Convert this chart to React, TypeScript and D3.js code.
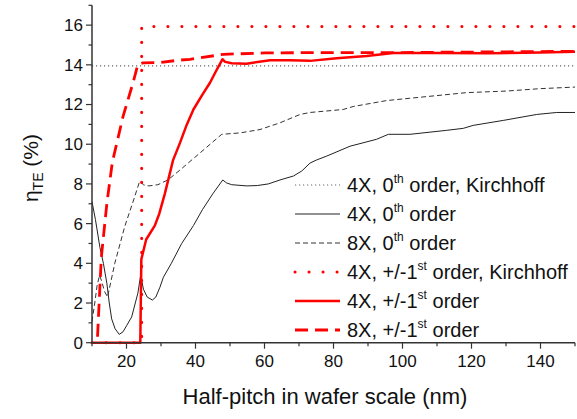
import React from 'react';
import * as d3 from 'd3';

// half-pitch (nm) vs efficiency (%)
const kirchhoff0: [number, number][] = [[10, 13.95], [150, 13.95]];

const zeroOrder4x: [number, number][] = [
  [10, 7.1], [11, 6.2], [12.3, 4.8], [13.3, 4.0], [14.3, 3.0], [15, 2.0], [15.7, 1.2], [16.7, 0.7],
  [17.9, 0.42], [19, 0.55], [20, 0.85], [21.5, 1.3], [23.3, 2.5], [24.1, 3.4], [24.9, 2.7], [26, 2.3],
  [27.5, 2.15], [28.5, 2.3], [29.7, 2.8], [30.7, 3.3], [33, 4.0], [36, 5.0], [39.4, 5.9], [42, 6.7],
  [45, 7.5], [47.9, 8.2], [49, 8.05], [50.5, 7.96], [54.9, 7.9], [58, 7.92], [61.1, 8.0], [64.5, 8.2],
  [68.4, 8.4], [70.8, 8.65], [73.2, 9.05], [75, 9.2], [78, 9.4], [84.8, 9.9], [92.5, 10.25], [95.9, 10.5],
  [102.2, 10.5], [112.8, 10.7], [117.6, 10.8], [120.5, 10.95], [129.2, 11.2], [138.9, 11.5], [144.7, 11.6],
  [150, 11.6],
];

const zeroOrder8x: [number, number][] = [
  [10, 1.06], [10.8, 2.0], [11.5, 2.9], [12.2, 3.4], [12.8, 3.1], [13.6, 2.6], [14.5, 2.3], [15.5, 3.1],
  [16.6, 4.0], [19.5, 5.86], [22.4, 7.37], [23.8, 8.13], [25, 7.95], [26.5, 7.9], [29.1, 7.96], [32, 8.2],
  [35.5, 8.7], [41.3, 9.56], [47.6, 10.5], [52.9, 10.57], [58.7, 10.74], [64.5, 11.08], [70.3, 11.5],
  [73.2, 11.6], [82.8, 11.75], [85.7, 11.9], [95.4, 12.2], [107, 12.4], [118.6, 12.6], [130.2, 12.68],
  [139.9, 12.8], [150, 12.88],
];

const kirchhoff1: [number, number][] = [[10, 0], [24.4, 0], [24.4, 15.93], [150, 15.93]];

const firstOrder4x: [number, number][] = [
  [10, 0], [24, 0], [24.3, 4.2], [25.7, 5.2], [28.2, 5.9], [29.5, 6.5], [31.1, 7.5], [33.5, 9.2],
  [35.5, 10.07], [37.5, 11.0], [39.4, 11.75], [42, 12.5], [44.2, 13.1], [46, 13.7], [47.8, 14.28],
  [48.6, 14.15], [50.5, 14.08], [54.8, 14.06], [61.6, 14.23], [67.4, 14.23], [73.2, 14.2], [80.9, 14.33],
  [89.6, 14.44], [97.3, 14.6], [110, 14.6], [125, 14.58], [140, 14.62], [150, 14.66],
];

const firstOrder8x: [number, number][] = [
  [11.6, 0.3], [12.7, 4.3], [14.3, 7.0], [15.9, 9.1], [19, 11.4], [21.9, 13.1], [23.3, 14.02], [24.8, 14.1],
  [30, 14.12], [34.9, 14.23], [38.4, 14.28], [48.1, 14.53], [60, 14.6], [80, 14.62], [100, 14.62],
  [150, 14.68],
];

const xTicks = [20, 40, 60, 80, 100, 120, 140];
const yTicks = [0, 2, 4, 6, 8, 10, 12, 14, 16];

const series = [
  { data: kirchhoff0, color: '#666', width: 1.2, dash: '1.2,2.8', label: ['4X, 0', 'th', ' order, Kirchhoff'] },
  { data: zeroOrder4x, color: '#222', width: 1, dash: null, label: ['4X, 0', 'th', ' order'] },
  { data: zeroOrder8x, color: '#333', width: 1, dash: '5,3', label: ['8X, 0', 'th', ' order'] },
  { data: kirchhoff1, color: '#ff0000', width: 3, dash: '0.1,13.9', label: ['4X, +/-1', 'st', ' order, Kirchhoff'] },
  { data: firstOrder4x, color: '#ff0000', width: 2.5, dash: null, label: ['4X, +/-1', 'st', ' order'] },
  { data: firstOrder8x, color: '#ff0000', width: 2.8, dash: '13,7', label: ['8X, +/-1', 'st', ' order'] },
];

const W = 577;
const H = 419;
const m = { left: 92, right: 2, top: 5.3, bottom: 76.3 };

export default function App() {
  const x = d3.scaleLinear().domain([10, 150]).range([m.left, W - m.right]);
  const y = d3.scaleLinear().domain([0, 17]).range([H - m.bottom, m.top]);
  const line = d3.line<[number, number]>().x(d => x(d[0])).y(d => y(d[1]));
  const font = 'Arial, "Liberation Sans", sans-serif';

  const xMinor = d3.range(10, 151, 10);
  const yMinor = d3.range(0, 18, 1);
  const y0 = y(0);

  return (
    <div style={{ position: 'fixed', left: 0, top: 0 }}>
      <svg width={W} height={H} style={{ display: 'block', background: '#fff' }} fontFamily={font}>
        {series.map((s, i) => (
          <path key={i} d={line(s.data) || ''} fill="none" stroke={s.color} strokeWidth={s.width}
            strokeDasharray={s.dash || undefined} strokeLinecap={s.dash && s.dash.startsWith('0.1') ? 'round' : 'butt'}
            strokeLinejoin="round" />
        ))}

        {/* axes */}
        <line x1={m.left} x2={m.left} y1={y(17)} y2={y0} stroke="#333" strokeWidth={1.5} />
        <line x1={m.left} x2={W - m.right} y1={y0} y2={y0} stroke="#333" strokeWidth={1.5} />
        {yMinor.map(v => (
          <line key={'ym' + v} x1={m.left} x2={m.left - (v % 2 === 0 ? 6 : 3.5)} y1={y(v)} y2={y(v)} stroke="#333" strokeWidth={1.2} />
        ))}
        {xMinor.map(v => (
          <line key={'xm' + v} x1={x(v)} x2={x(v)} y1={y0} y2={y0 + (v % 20 === 0 ? 6 : 3.5)} stroke="#333" strokeWidth={1.2} />
        ))}
        {yTicks.map(v => (
          <text key={'yt' + v} x={m.left - 9} y={y(v)} dy="0.35em" textAnchor="end" fontSize={17} fill="#111">{v}</text>
        ))}
        {xTicks.map(v => (
          <text key={'xt' + v} x={x(v)} y={y0 + 24} textAnchor="middle" fontSize={17} fill="#111">{v}</text>
        ))}

        <text x={325} y={404} textAnchor="middle" fontSize={22} fill="#111">Half-pitch in wafer scale (nm)</text>
        <text transform={`translate(38,${y(8.8)}) rotate(-90)`} textAnchor="middle" fontSize={21} fill="#111">
          η<tspan fontSize={14} dy={5}>TE</tspan><tspan dy={-5}> (%)</tspan>
        </text>

        {/* legend */}
        {series.map((s, i) => {
          const cy = 185 + i * 29;
          return (
            <g key={'lg' + i}>
              <line x1={295} x2={340} y1={cy} y2={cy} stroke={s.color} strokeWidth={s.width}
                strokeDasharray={s.dash || undefined} strokeLinecap={s.dash && s.dash.startsWith('0.1') ? 'round' : 'butt'} />
              <text x={347} y={cy + 7} fontSize={20} fill="#111">
                {s.label[0]}
                <tspan fontSize={12} dy={-9}>{s.label[1]}</tspan>
                <tspan dy={9}>{s.label[2]}</tspan>
              </text>
            </g>
          );
        })}
      </svg>
    </div>
  );
}
